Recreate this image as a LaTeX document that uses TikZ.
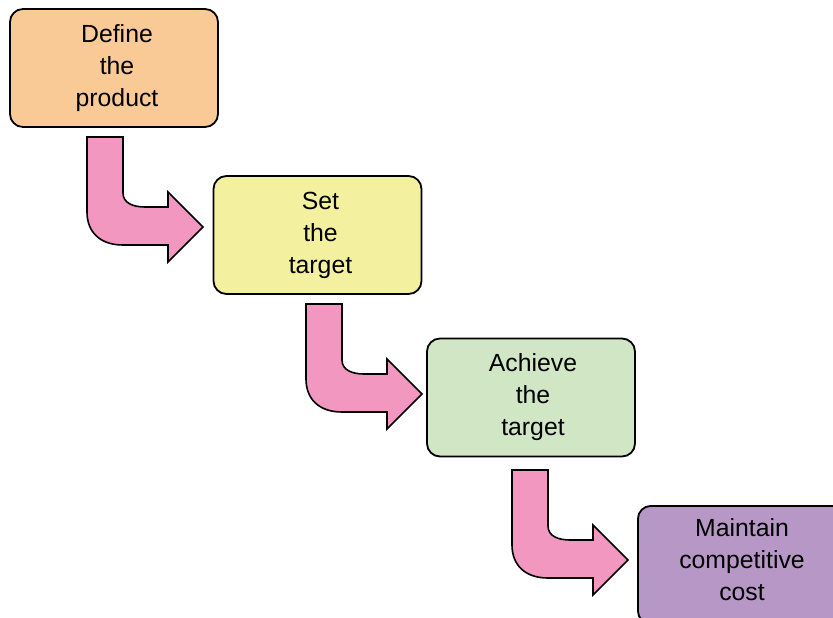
\documentclass[tikz,border=0pt]{standalone}
\usepackage{fontspec}
\setmainfont{Liberation Sans}
\definecolor{boxorange}{HTML}{F9C996}
\definecolor{boxyellow}{HTML}{F3F09F}
\definecolor{boxgreen}{HTML}{D0E6C4}
\definecolor{boxpurple}{HTML}{B797C6}
\definecolor{arrowpink}{HTML}{F297C0}
\begin{document}
\begin{tikzpicture}[x=1pt,y=-1pt,
  stepbox/.style={draw=black,line width=1.8pt,rounded corners=13pt,
    minimum width=208pt,minimum height=118pt,inner sep=0pt},
  steptext/.style={align=center,inner sep=0pt,font=\fontsize{24.8}{32}\selectfont},
  bentarrow/.pic={
    \draw[line width=1.6pt,line join=miter,fill=arrowpink]
      (0,0) -- (36,0) -- (36,56)
      .. controls (36,66) and (46,70) .. (58,70)
      -- (81,70) -- (81,55) -- (116,90) -- (81,125) -- (81,108) -- (36,108)
      .. controls (13,108) and (0,95) .. (0,75) -- cycle;
  }]
  \useasboundingbox (0,0) rectangle (833,618);
  \clip (0,0) rectangle (833,618);

  % process steps
  \node[stepbox,fill=boxorange] (define) at (114,68) {};
  \node[steptext] (definetext) at ([xshift=3pt]define.center) {Define\\the\\product};
  \node[stepbox,fill=boxyellow] (settarget) at (317.5,235) {};
  \node[steptext] (settext) at ([xshift=3pt]settarget.center) {Set\\the\\target};
  \node[stepbox,fill=boxgreen] (achieve) at (531,397.5) {};
  \node[steptext] (achievetext) at ([xshift=2pt]achieve.center) {Achieve\\the\\target};
  \node[stepbox,fill=boxpurple,anchor=north west] (maintain) at (637,505) {};
  \node[steptext] (maintaintext) at (742,560) {Maintain\\competitive\\cost};

  % bent block arrows between the steps
  \pic at (87,137) {bentarrow};
  \pic at (306,304) {bentarrow};
  \pic at (512,470) {bentarrow};
\end{tikzpicture}
\end{document}
